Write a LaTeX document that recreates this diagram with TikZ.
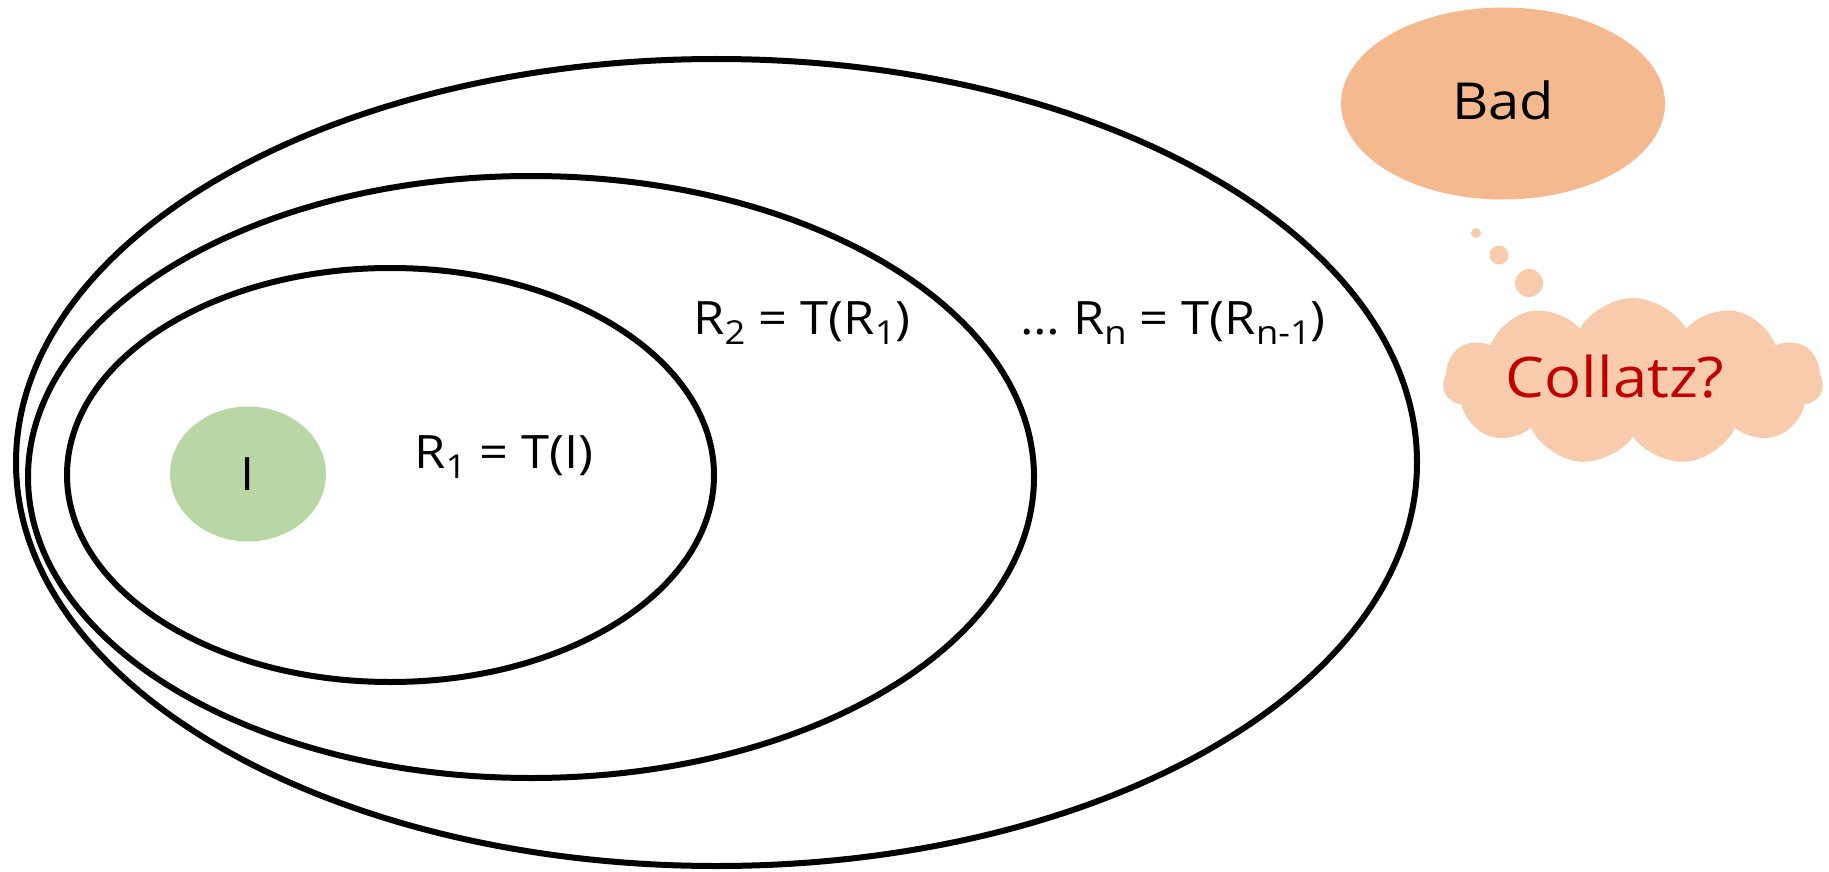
\documentclass[tikz,border=0pt]{standalone}
\usepackage{fontspec}
\setmainfont{Open Sans}[FakeStretch=1.1]
\usetikzlibrary{shapes.geometric,shapes.symbols}
\definecolor{badfill}{HTML}{F4B98F}
\definecolor{cloudfill}{HTML}{F8CBAD}
\definecolor{initfill}{HTML}{B9D7A5}
\definecolor{qred}{HTML}{C00000}
\newcommand{\lo}[1]{\raisebox{-10pt}{\fontsize{33}{33}\selectfont #1}}
\begin{document}
\begin{tikzpicture}[x=1pt,y=-1pt,
  ring/.style={draw=black,line width=6pt,ellipse,inner sep=0pt},
  blob/.style={ellipse,inner sep=0pt,draw=none},
  lbl/.style={anchor=base,inner sep=0pt,font=\fontsize{46}{50}\selectfont},
  bubble/.style={circle,fill=cloudfill,inner sep=0pt,draw=none}]
\useasboundingbox (0,0) rectangle (1829,872);
% nested regions
\node[ring,minimum width=1401pt,minimum height=807pt] (outer) at (716.5,462.5) {};
\node[ring,minimum width=1006pt,minimum height=602pt] (mid) at (531,477) {};
\node[ring,minimum width=647pt,minimum height=414pt] (inner) at (390.5,475) {};
\node[blob,fill=initfill,minimum width=156pt,minimum height=135pt] (init) at (248,474) {};
% labels
\node[lbl] (tI) at (248,490) {I};
\node[lbl] (r1) at (504,468) {R\lo{1} = T(I)};
\node[lbl] (r2) at (802,334) {R\lo{2} = T(R\lo{1})};
\node[lbl] (rn) at (1173,334) {\dots\ R\lo{n} = T(R\lo{n-1})};
% bad set
\node[blob,fill=badfill,minimum width=324pt,minimum height=192pt] (bad) at (1503,103.5) {};
\node[lbl,font=\fontsize{51}{55}\selectfont] (tbad) at (1503,120) {Bad};
% thought bubbles
\node[bubble,minimum size=10pt] (b1) at (1476,233) {};
\node[bubble,minimum size=19pt] (b2) at (1499,255) {};
\node[bubble,minimum size=28pt] (b3) at (1529,283) {};
\node[cloud,cloud puffs=11,cloud puff arc=120,cloud ignores aspect,fill=cloudfill,draw=none,
      minimum width=380pt,minimum height=167pt,inner sep=0pt] (cloud) at (1633,381.5) {};
\node[lbl,font=\fontsize{56}{60}\selectfont,text=qred] (tq) at (1615,397) {Collatz?};
\end{tikzpicture}
\end{document}
